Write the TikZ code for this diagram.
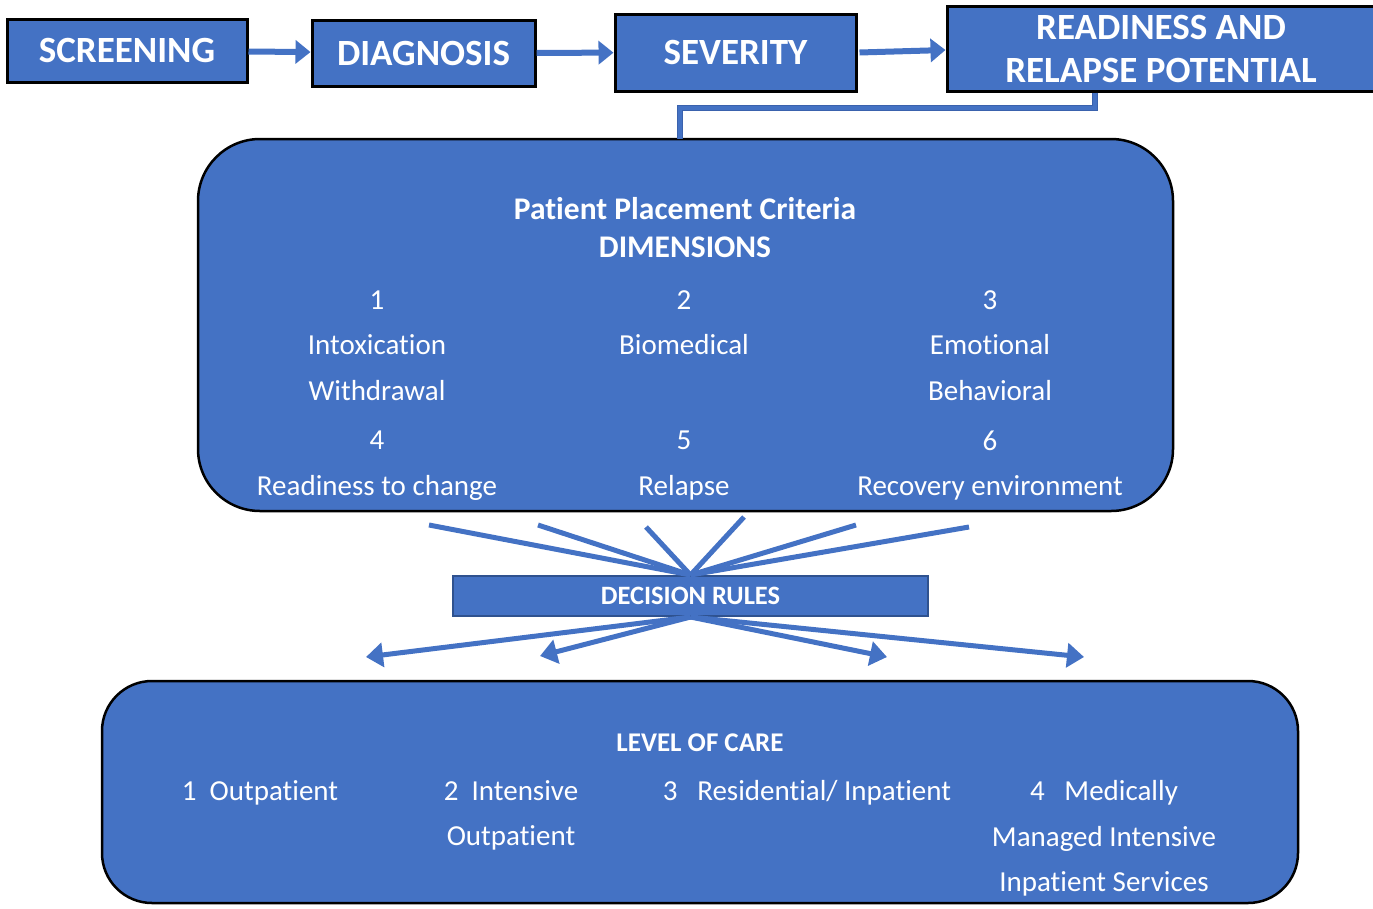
\documentclass[tikz,border=0pt]{standalone}
\usepackage{fontspec}
\setmainfont{Carlito}[Ligatures={NoCommon}]
\usetikzlibrary{arrows.meta}
\definecolor{boxblue}{HTML}{4472C4}
\definecolor{rulesedge}{HTML}{2F528F}
\definecolor{linkedge}{HTML}{3A62AD}
\tikzset{
  stagebox/.style={draw=black, line width=3pt, fill=boxblue, text=white, inner sep=0pt,
    align=center, font=\fontsize{37}{43}\selectfont\bfseries},
  roundbox/.style={draw=black, line width=2.5pt, fill=boxblue, inner sep=0pt},
  rulesbox/.style={draw=rulesedge, line width=2pt, fill=boxblue, text=white, inner sep=0pt,
    font=\fontsize{26.5}{30}\selectfont\bfseries},
  boxtitle/.style={text=white, align=center, font=\fontsize{31.5}{38}\selectfont\bfseries},
  boxtext/.style={text=white, align=center, font=\fontsize{29}{45.5}\selectfont},
  stagearrow/.style={draw=boxblue, line width=6pt, -{Triangle[length=15pt,width=23pt]}},
  linkline/.style={draw=linkedge, line width=1pt, double=boxblue, double distance=4pt},
  fanline/.style={draw=boxblue, line width=5pt},
  fanarrow/.style={draw=boxblue, line width=5pt, -{Triangle[length=17pt,width=24pt]}}
}
\begin{document}
\begin{tikzpicture}[x=1pt,y=-1pt]
  \useasboundingbox (0,0) rectangle (1373,908);

  % Stages along the top
  \node [stagebox, minimum width=240pt, minimum height=63pt] (screen) at (127,50.5) {SCREENING};
  \node [stagebox, minimum width=223pt, minimum height=66pt] (diag) at (423.5,53) {DIAGNOSIS};
  \node [stagebox, minimum width=241pt, minimum height=77pt] (sev) at (735.5,52.5) {SEVERITY};
  \node [stagebox, minimum width=428pt, minimum height=85pt] (ready) at (1161,48.5) {READINESS AND\\RELAPSE POTENTIAL};

  \draw [stagearrow] (screen) -- (diag);
  \draw [stagearrow] (diag) -- (sev);
  \draw [stagearrow] ([xshift=2pt]sev.east) -- (ready.west |- 0,50);

  % Dimensions box
  \node [roundbox, rounded corners=62pt, minimum width=975pt, minimum height=372pt] (dims) at (685.5,325) {};
  \node [boxtitle] (dimstitle) at (685,228) {Patient Placement Criteria\\DIMENSIONS};
  \node [boxtext] (dimone) at (377,345.5) {1\\Intoxication\\Withdrawal};
  \node [boxtext] (dimtwo) at (684,322.5) {2\\Biomedical};
  \node [boxtext] (dimthree) at (990,345.5) {3\\Emotional\\Behavioral};
  \node [boxtext] (dimfour) at (377,465.5) {4\\Readiness to change};
  \node [boxtext] (dimfive) at (684,465.5) {5\\Relapse};
  \node [boxtext] (dimsix) at (990,465.5) {6\\Recovery environment};

  % Link from readiness to dimensions
  \coordinate (linkdrop) at (1095,108);
  \coordinate (linkland) at (680,139);
  \draw [linkline] (ready.south -| linkdrop) -- (linkdrop) -- (linkdrop -| linkland) -- (linkland);

  % Decision rules
  \node [rulesbox, minimum width=475pt, minimum height=40pt] (rules) at (690.5,596) {DECISION RULES};

  \coordinate (inone) at (429,525);
  \coordinate (intwo) at (538,525);
  \coordinate (inthree) at (646,527);
  \coordinate (infour) at (744,517);
  \coordinate (infive) at (856,525);
  \coordinate (insix) at (969,527);
  \draw [fanline] (inone) -- (rules.north);
  \draw [fanline] (intwo) -- (rules.north);
  \draw [fanline] (inthree) -- (rules.north);
  \draw [fanline] (infour) -- (rules.north);
  \draw [fanline] (infive) -- (rules.north);
  \draw [fanline] (insix) -- (rules.north);

  \coordinate (outone) at (366,657);
  \coordinate (outtwo) at (540,656);
  \coordinate (outthree) at (887,657);
  \coordinate (outfour) at (1084,657);
  \draw [fanarrow] (rules.south) -- (outone);
  \draw [fanarrow] (rules.south) -- (outtwo);
  \draw [fanarrow] (rules.south) -- (outthree);
  \draw [fanarrow] (rules.south) -- (outfour);

  % Level of care box
  \node [roundbox, rounded corners=50pt, minimum width=1196pt, minimum height=222pt] (care) at (700,792) {};
  \node [boxtitle, font=\fontsize{27}{30}\selectfont\bfseries] (caretitle) at (700,743) {LEVEL OF CARE};
  \node [boxtext] (careone) at (260,793) {1~~Outpatient};
  \node [boxtext] (caretwo) at (511,815.5) {2~~Intensive\\Outpatient};
  \node [boxtext] (carethree) at (807,793) {3~~~Residential/ Inpatient};
  \node [boxtext] (carefour) at (1104,838.5) {4~~~Medically\\Managed Intensive\\Inpatient Services};
\end{tikzpicture}
\end{document}
